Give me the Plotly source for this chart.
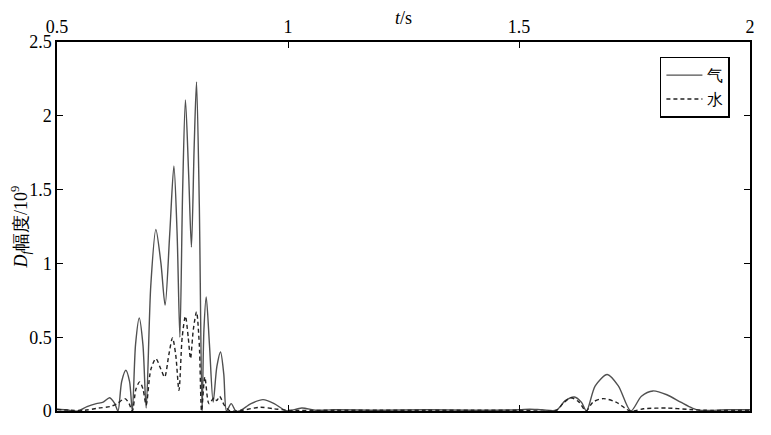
import plotly.graph_objects as go

# gas (solid) trace
t_gas = [0.500, 0.520, 0.545, 0.565, 0.585, 0.600, 0.614, 0.625, 0.632, 0.640,
         0.649, 0.657, 0.663, 0.670, 0.678, 0.686, 0.693, 0.703, 0.714, 0.725,
         0.734, 0.744, 0.753, 0.760, 0.766, 0.772, 0.778, 0.785, 0.791, 0.797,
         0.802, 0.808, 0.814, 0.818, 0.823, 0.830, 0.838, 0.846, 0.854, 0.861,
         0.867, 0.877, 0.887, 0.895, 0.920, 0.946, 0.970, 0.990, 1.000, 1.030,
         1.060, 1.100, 1.200, 1.300, 1.400, 1.500, 1.523, 1.550, 1.581, 1.600,
         1.620, 1.635, 1.646, 1.665, 1.691, 1.715, 1.742, 1.765, 1.790, 1.820,
         1.850, 1.875, 1.891, 1.950, 2.000]
v_gas = [0.012, 0.008, 0.0, 0.03, 0.05, 0.06, 0.09, 0.05, 0.0, 0.2,
         0.276, 0.2, 0.0, 0.45, 0.63, 0.45, 0.02, 0.85, 1.23, 1.0,
         0.717, 1.2, 1.66, 1.2, 0.50, 1.5, 2.107, 1.6, 1.11, 1.8,
         2.23, 1.4, 0.0, 0.55, 0.773, 0.45, 0.06, 0.3, 0.40, 0.25,
         0.0, 0.05, 0.0, 0.0, 0.05, 0.077, 0.05, 0.01, 0.0, 0.02,
         0.005, 0.008, 0.005, 0.008, 0.005, 0.008, 0.012, 0.008, 0.005, 0.07,
         0.095, 0.06, 0.0, 0.17, 0.247, 0.17, 0.0, 0.1, 0.136, 0.11,
         0.06, 0.02, 0.005, 0.008, 0.008]

# water (dashed) trace
t_water = [0.500, 0.530, 0.560, 0.590, 0.615, 0.630, 0.647, 0.656, 0.663, 0.671,
           0.679, 0.686, 0.693, 0.703, 0.714, 0.724, 0.733, 0.742, 0.750, 0.757,
           0.764, 0.771, 0.778, 0.784, 0.789, 0.795, 0.802, 0.808, 0.813, 0.820,
           0.829, 0.840, 0.846, 0.852, 0.862, 0.875, 0.900, 0.940, 0.970, 1.000,
           1.100, 1.200, 1.300, 1.400, 1.500, 1.581, 1.595, 1.612, 1.630, 1.645,
           1.660, 1.682, 1.710, 1.741, 1.770, 1.820, 1.870, 1.900, 2.000]
v_water = [0.01, 0.005, 0.005, 0.02, 0.03, 0.05, 0.084, 0.05, 0.0, 0.15,
           0.197, 0.15, 0.04, 0.28, 0.355, 0.29, 0.23, 0.38, 0.495, 0.38,
           0.14, 0.5, 0.642, 0.5, 0.355, 0.55, 0.671, 0.45, 0.0, 0.23,
           0.05, 0.09, 0.07, 0.10, 0.04, 0.0, 0.005, 0.025, 0.015, 0.005,
           0.005, 0.005, 0.005, 0.005, 0.005, 0.005, 0.05, 0.09, 0.06, 0.0,
           0.06, 0.084, 0.06, 0.0, 0.015, 0.02, 0.01, 0.005, 0.005]

x_ticks = [0.5, 1, 1.5, 2]
x_ticktext = ["0.5", "1", "1.5", "2"]
y_ticks = [0, 0.5, 1, 1.5, 2, 2.5]
y_ticktext = ["0", "0.5", "1", "1.5", "2", "2.5"]

FONT = "Liberation Serif, Times New Roman, serif"

fig = go.Figure()
fig.add_trace(go.Scatter(
    x=t_gas, y=v_gas, name="气", mode="lines",
    line=dict(color="#505050", width=1.4, shape="spline", smoothing=0.8),
))
fig.add_trace(go.Scatter(
    x=t_water, y=v_water, name="水", mode="lines",
    line=dict(color="#222222", width=1.4, dash="4px,3px", shape="spline", smoothing=0.8),
))

axis_common = dict(
    showline=True, linecolor="black", linewidth=1.5, mirror="allticks",
    ticks="inside", ticklen=6, tickcolor="black", tickwidth=1.3,
    showgrid=False, zeroline=False, automargin=False,
    tickfont=dict(family=FONT, size=18, color="black"),
)

# margins allow for the 8px page offset of the html body
fig.update_layout(
    width=771, height=435,
    margin=dict(l=49, r=29, t=34, b=32),
    paper_bgcolor="white", plot_bgcolor="white",
    font=dict(family=FONT, size=18, color="black"),
    showlegend=True,
    legend=dict(
        x=0.87, y=0.96, xanchor="left", yanchor="top",
        bordercolor="black", borderwidth=1.5, bgcolor="white",
        font=dict(family=FONT, size=16), tracegroupgap=0,
        itemwidth=36,
    ),
    xaxis=dict(
        range=[0.5, 2], side="top", tickvals=x_ticks, ticktext=x_ticktext,
        title=dict(text="<i>t</i>/s", font=dict(family=FONT, size=18), standoff=8),
        **axis_common,
    ),
    yaxis=dict(
        range=[0, 2.5], tickvals=y_ticks, ticktext=y_ticktext,
        title=dict(text="<i>D<sub>f</sub></i>幅度/10<sup>9</sup>",
                   font=dict(family=FONT, size=18), standoff=6),
        **axis_common,
    ),
)

fig.write_html("out.html")
